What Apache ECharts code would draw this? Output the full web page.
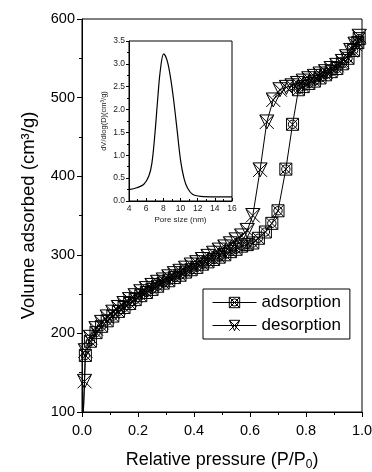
<!DOCTYPE html>
<html>
<head>
<meta charset="utf-8">
<script src="https://cdn.jsdelivr.net/npm/echarts@6/dist/echarts.min.js"></script>
<style>
html,body{margin:0;padding:0;background:#fff;}
#c{width:372px;height:472px;}
</style>
</head>
<body>
<div id="c"></div>
<script>
// Main isotherm data (relative pressure P/P0, volume adsorbed cm3/g)
const adsP = [0.004,0.012,0.03,0.05,0.07,0.09,0.11,0.13,0.15,0.17,0.19,0.21,0.23,0.25,0.27,0.29,0.31,0.33,0.35,0.37,0.39,0.41,0.43,0.45,0.47,0.49,0.51,0.53,0.55,0.57,0.59,0.61,0.63,0.655,0.678,0.70,0.728,0.752,0.773,0.79,0.81,0.83,0.85,0.87,0.89,0.91,0.93,0.95,0.97,0.985,0.99];
const adsV = [90,172,190,201,209,216,222,228,233,238,243,248,252,256,260,264,267,271,274,278,281,284,288,291,294,297,300,304,307,311,313,315,321,329,340,356,409,466,510,514,518,521,525,529,533,537,543,550,560,570,575];
const desP = [0.99,0.975,0.96,0.945,0.93,0.91,0.89,0.87,0.85,0.83,0.81,0.79,0.77,0.75,0.73,0.707,0.683,0.66,0.636,0.61,0.59,0.57,0.55,0.53,0.51,0.49,0.47,0.45,0.43,0.41,0.39,0.37,0.35,0.33,0.31,0.29,0.27,0.25,0.23,0.21,0.19,0.17,0.15,0.13,0.11,0.09,0.07,0.05,0.03,0.012,0.009,0.003];
const desV = [578,568,560,552,546,541,537,533,530,527,524,521,518,515,513,510,497,469,408,350,331,324,319,314,310,306,302,298,294,290,287,283,279,276,272,268,265,261,257,253,248,243,238,233,227,221,214,206,195,178,139,80];
// Inset pore size distribution
const poreSize = [4,4.9,5.7,6.3,6.67,7.06,7.33,7.65,8.04,8.43,8.82,9.2,9.6,10.0,10.4,10.8,11.4,12.35,14,16];
const poreDist = [0.25,0.29,0.36,0.54,0.83,1.56,2.2,2.86,3.22,3.08,2.72,2.21,1.56,0.9,0.5,0.29,0.145,0.1,0.09,0.09];
// Tick labels
const mainYTicks = [100,200,300,400,500,600];
const mainXTicks = ['0.0','0.2','0.4','0.6','0.8','1.0'];

const FONT = 'Liberation Sans, Arial, sans-serif';
const adsSymbol = 'path://M0,0H20V20H0Z M0,0L20,20 M20,0L0,20 M10,3A7,7 0 1,0 10,17A7,7 0 1,0 10,3Z';
const desSymbol = 'path://M0,0L20,20 M20,0L0,20 M0,0H20L10,20Z';

const zip = (a,b) => a.map((v,i)=>[v,b[i]]);

const chart = echarts.init(document.getElementById('c'), null, {renderer:'canvas'});
const axisBlack = {lineStyle:{color:'#000',width:1}};
const hollow = {color:'rgba(0,0,0,0)', borderColor:'#000', borderWidth:1};
chart.setOption({
  animation:false,
  backgroundColor:'#fff',
  grid:[
    {left:82, top:19, width:280, height:393, show:true, borderColor:'#000', borderWidth:1, outerBoundsMode:'none', containLabel:false},
    {left:129, top:41, width:103, height:160, show:true, borderColor:'#000', borderWidth:1, backgroundColor:'#fff', outerBoundsMode:'none', containLabel:false}
  ],
  xAxis:[
    {gridIndex:0, type:'value', min:0, max:1, interval:0.2,
     name:'Relative pressure (P/P{sub|0})', nameLocation:'middle', nameGap:37,
     nameTextStyle:{fontFamily:FONT, fontSize:18, color:'#000', rich:{sub:{fontFamily:FONT,fontSize:12,color:'#000',padding:[10,0,0,0]}}},
     axisLine:axisBlack, axisTick:{length:5, lineStyle:{color:'#000'}},
     minorTick:{show:true, splitNumber:2, length:3, lineStyle:{color:'#000'}},
     splitLine:{show:false},
     axisLabel:{fontFamily:FONT, fontSize:14.5, color:'#000', margin:11, formatter:(v)=>mainXTicks[Math.round(v/0.2)]}},
    {gridIndex:1, type:'value', min:4, max:16, interval:2,
     name:'Pore size (nm)', nameLocation:'middle', nameGap:15,
     nameTextStyle:{fontFamily:FONT, fontSize:8, color:'#222'},
     axisLine:axisBlack, axisTick:{inside:true, length:3, lineStyle:{color:'#000'}},
     minorTick:{show:true, splitNumber:2, length:2, lineStyle:{color:'#000'}},
     splitLine:{show:false},
     axisLabel:{fontFamily:FONT, fontSize:8.5, color:'#222', margin:3}}
  ],
  yAxis:[
    {gridIndex:0, type:'value', min:100, max:600, interval:100,
     name:'Volume adsorbed (cm³/g)', nameLocation:'middle', nameGap:44, nameRotate:90,
     nameTextStyle:{fontFamily:FONT, fontSize:18.5, color:'#000'},
     axisLine:axisBlack, axisTick:{length:5, lineStyle:{color:'#000'}},
     minorTick:{show:true, splitNumber:2, length:3, lineStyle:{color:'#000'}},
     splitLine:{show:false},
     axisLabel:{fontFamily:FONT, fontSize:14.5, color:'#000', margin:7, formatter:(v)=>String(mainYTicks[Math.round((v-100)/100)])}},
    {gridIndex:1, type:'value', min:0, max:3.5, interval:0.5,
     name:'dV/dlog(D)(cm³/g)', nameLocation:'middle', nameGap:21, nameRotate:90,
     nameTextStyle:{fontFamily:FONT, fontSize:7.5, color:'#222'},
     axisLine:axisBlack, axisTick:{inside:false, length:3, lineStyle:{color:'#000'}},
     minorTick:{show:true, splitNumber:2, length:2, lineStyle:{color:'#000'}},
     splitLine:{show:false},
     axisLabel:{fontFamily:FONT, fontSize:8.5, color:'#222', margin:4, formatter:(v)=>v.toFixed(1)}}
  ],
  legend:{
    orient:'vertical', left:203, top:289,
    borderColor:'#000', borderWidth:1, padding:[5,9,5,9],
    itemWidth:44, itemHeight:13, itemGap:6,
    itemStyle:hollow, lineStyle:{color:'#000', width:1},
    textStyle:{fontFamily:FONT, fontSize:17, color:'#000'},
    data:['adsorption','desorption']
  },
  series:[
    {name:'adsorption', type:'line', xAxisIndex:0, yAxisIndex:0, data:zip(adsP,adsV),
     symbol:adsSymbol, symbolSize:12, showAllSymbol:true,
     lineStyle:{color:'#000', width:1},
     itemStyle:hollow},
    {name:'desorption', type:'line', xAxisIndex:0, yAxisIndex:0, data:zip(desP,desV),
     symbol:desSymbol, symbolSize:14, showAllSymbol:true,
     lineStyle:{color:'#000', width:1},
     itemStyle:hollow},
    {name:'psd', type:'line', xAxisIndex:1, yAxisIndex:1, data:zip(poreSize,poreDist),
     smooth:0.35, symbol:'none', lineStyle:{color:'#000', width:1.2}}
  ]
});
</script>
</body>
</html>
